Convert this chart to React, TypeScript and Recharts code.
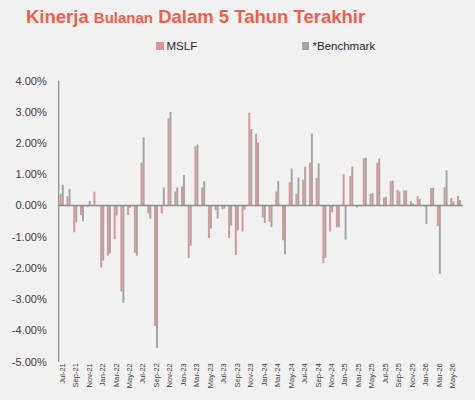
import React from "react";
import { BarChart, Bar, XAxis, YAxis, ReferenceLine } from "recharts";

// monthly returns, in percent
const months = [
  "Jul-21", "Aug-21", "Sep-21", "Oct-21", "Nov-21", "Dec-21",
  "Jan-22", "Feb-22", "Mar-22", "Apr-22", "May-22", "Jun-22",
  "Jul-22", "Aug-22", "Sep-22", "Oct-22", "Nov-22", "Dec-22",
  "Jan-23", "Feb-23", "Mar-23", "Apr-23", "May-23", "Jun-23",
  "Jul-23", "Aug-23", "Sep-23", "Oct-23", "Nov-23", "Dec-23",
  "Jan-24", "Feb-24", "Mar-24", "Apr-24", "May-24", "Jun-24",
  "Jul-24", "Aug-24", "Sep-24", "Oct-24", "Nov-24", "Dec-24",
  "Jan-25", "Feb-25", "Mar-25", "Apr-25", "May-25", "Jun-25",
  "Jul-25", "Aug-25", "Sep-25", "Oct-25", "Nov-25", "Dec-25",
  "Jan-26", "Feb-26", "Mar-26", "Apr-26", "May-26", "Jun-26",
];

const mslf = [
  0.38, 0.30, -0.85, -0.30, -0.05, 0.44,
  -1.98, -1.60, -1.07, -2.75, -0.30, -1.51,
  1.38, -0.25, -3.86, -0.25, 2.80, 0.45,
  0.61, -1.68, 1.89, 0.58, -1.04, -0.15,
  -0.12, -1.04, -1.58, -0.83, 2.97, 2.31,
  -0.38, -0.52, 0.45, -1.11, 0.75, 0.38,
  0.83, 1.37, 0.88, -1.85, -0.83, -0.69,
  1.00, 0.95, -0.06, 1.52, 0.37, 1.37,
  0.26, 0.78, 0.51, 0.48, 0.14, 0.31,
  -0.02, 0.56, -0.66, 0.59, 0.24, 0.31,
];

const benchmark = [
  0.67, 0.53, -0.53, -0.51, 0.15, -0.02,
  -1.76, -1.53, -0.32, -3.11, -0.07, -1.61,
  2.19, -0.42, -4.56, 0.58, 3.00, 0.58,
  0.98, -1.29, 1.96, 0.78, -0.73, -0.41,
  -0.09, -0.64, -0.79, -0.13, 2.45, 2.02,
  -0.56, -0.69, 0.79, -1.56, 1.19, 0.90,
  1.24, 2.31, 1.35, -1.68, -0.21, -0.69,
  -1.09, 1.25, 0.0, 1.53, 0.40, 1.51,
  0.28, 0.80, 0.45, 0.48, 0.07, 0.21,
  -0.59, 0.57, -2.19, 1.13, 0.13, 0.18,
];

const yTicks = [-5, -4, -3, -2, -1, 0, 1, 2, 3, 4];

const PINK = "#d99694";
const GREY = "#a6a6a6";
const AXIS = "#8c8c8c";

const data = months.map((m, i) => ({ month: m, mslf: mslf[i], bench: benchmark[i] }));

const MonthTick = ({ x, y, payload }: any) => (
  <g transform={`translate(${x},${y})`}>
    <text
      transform="rotate(-90)"
      textAnchor="end"
      dy={2.6}
      fontSize={7.5}
      fontFamily="Liberation Sans, Arial, sans-serif"
      fill="#404040"
    >
      {payload.value}
    </text>
  </g>
);

export default function App() {
  return (
    <div
      style={{
        position: "absolute",
        left: 0,
        top: 0,
        width: 475,
        height: 400,
        background: "#f2f2f2",
        fontFamily: "Liberation Sans, Arial, sans-serif",
      }}
    >
      <div
        style={{
          position: "absolute",
          left: 26,
          top: 8.3,
          lineHeight: "18.5px",
          fontWeight: "bold",
          color: "#f15f4a",
          whiteSpace: "nowrap",
          fontSize: 18.5,
        }}
      >
        Kinerja <span style={{ fontSize: 15 }}>Bulanan</span> Dalam 5 Tahun Terakhir
      </div>

      {/* legend */}
      <div style={{ position: "absolute", left: 156, top: 42, width: 7.5, height: 7.5, background: PINK }} />
      <div style={{ position: "absolute", left: 166.5, top: 39, fontSize: 11.5, lineHeight: "14px", color: "#262626" }}>
        MSLF
      </div>
      <div style={{ position: "absolute", left: 301.7, top: 42, width: 7.5, height: 7.5, background: GREY }} />
      <div style={{ position: "absolute", left: 312.5, top: 39, fontSize: 11.5, lineHeight: "14px", color: "#262626" }}>
        *Benchmark
      </div>

      <div style={{ position: "absolute", left: 0, top: 0 }}>
        <BarChart
          width={475}
          height={400}
          data={data}
          margin={{ top: 80.7, right: 12.3, bottom: 0, left: 0 }}
          barCategoryGap="16%"
          barGap={0}
        >
          <XAxis
            dataKey="month"
            interval={1}
            axisLine={false}
            tickLine={false}
            tickSize={0}
            tickMargin={1.5}
            height={38.3}
            tick={<MonthTick />}
          />
          <YAxis
            width={58.7}
            domain={[-5, 4]}
            ticks={yTicks}
            allowDataOverflow
            tickLine={false}
            tickSize={6}
            tickMargin={6}
            axisLine={{ stroke: AXIS, strokeWidth: 1.3 }}
            tickFormatter={(v: number) => `${v.toFixed(2)}%`}
            tick={{ fontSize: 11, fill: "#404040", fontFamily: "Liberation Sans, Arial, sans-serif" }}
          />
          <Bar dataKey="mslf" fill={PINK} isAnimationActive={false} />
          <Bar dataKey="bench" fill={GREY} isAnimationActive={false} />
          <ReferenceLine y={0} stroke={AXIS} strokeWidth={1.5} ifOverflow="extendDomain" />
        </BarChart>
      </div>
    </div>
  );
}
